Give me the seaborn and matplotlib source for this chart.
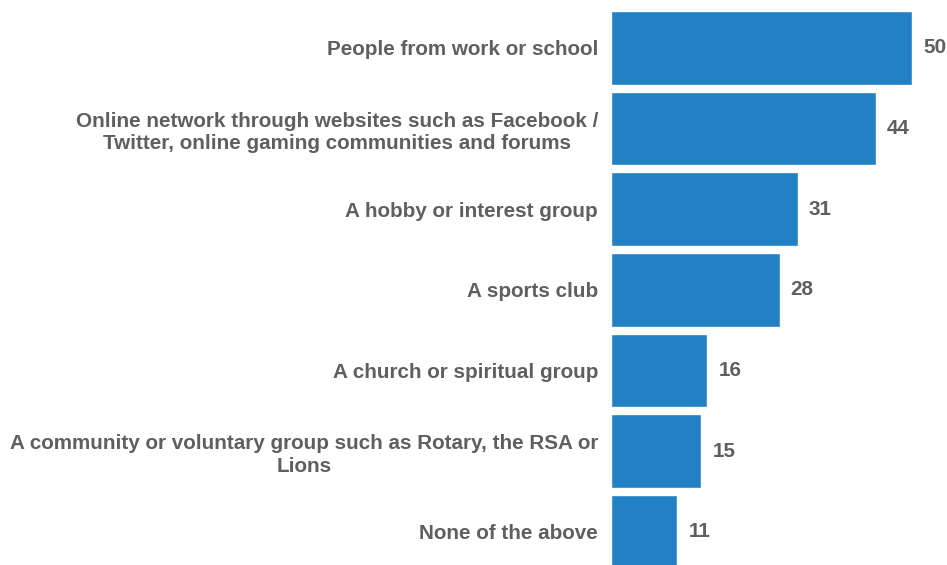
import matplotlib
matplotlib.use("Agg")
import matplotlib.pyplot as plt
import seaborn as sns
import pandas as pd

categories = [
    "People from work or school",
    "Online network through websites such as Facebook /\nTwitter, online gaming communities and forums",
    "A hobby or interest group",
    "A sports club",
    "A church or spiritual group",
    "A community or voluntary group such as Rotary, the RSA or\nLions",
    "None of the above",
]
values = [50, 44, 31, 28, 16, 15, 11]

bar_color = "#2281C4"
text_color = "#5E5F61"

sns.set_theme(style="white")
plt.rcParams["font.family"] = ["Liberation Sans", "DejaVu Sans"]

df = pd.DataFrame({"group": categories, "pct": values})

fig = plt.figure(figsize=(9.47, 5.65), dpi=100)
ax = fig.add_axes([611 / 947, -0.0127, (912 - 611) / 947, 0.9994])

sns.barplot(data=df, x="pct", y="group", orient="h", color=bar_color,
            saturation=1, width=0.913, ax=ax)

ax.set_xlim(0, 50)
ax.set_ylim(6.5, -0.5)
ax.set_xlabel("")
ax.set_ylabel("")
ax.set_xticks([])
for s in ax.spines.values():
    s.set_visible(False)

ax.tick_params(axis="y", length=0, pad=9.4)
ax.set_yticks(range(len(categories)))
ax.set_yticklabels(categories, fontsize=14.85, fontweight="bold",
                   color=text_color, multialignment="center",
                   linespacing=1.25)

for i, v in enumerate(values):
    ax.annotate(str(v), xy=(v, i), xytext=(8, 0), textcoords="offset points",
                ha="left", va="center", fontsize=14.85, fontweight="bold",
                color=text_color, annotation_clip=False)

fig.savefig("out.png", dpi=100)
